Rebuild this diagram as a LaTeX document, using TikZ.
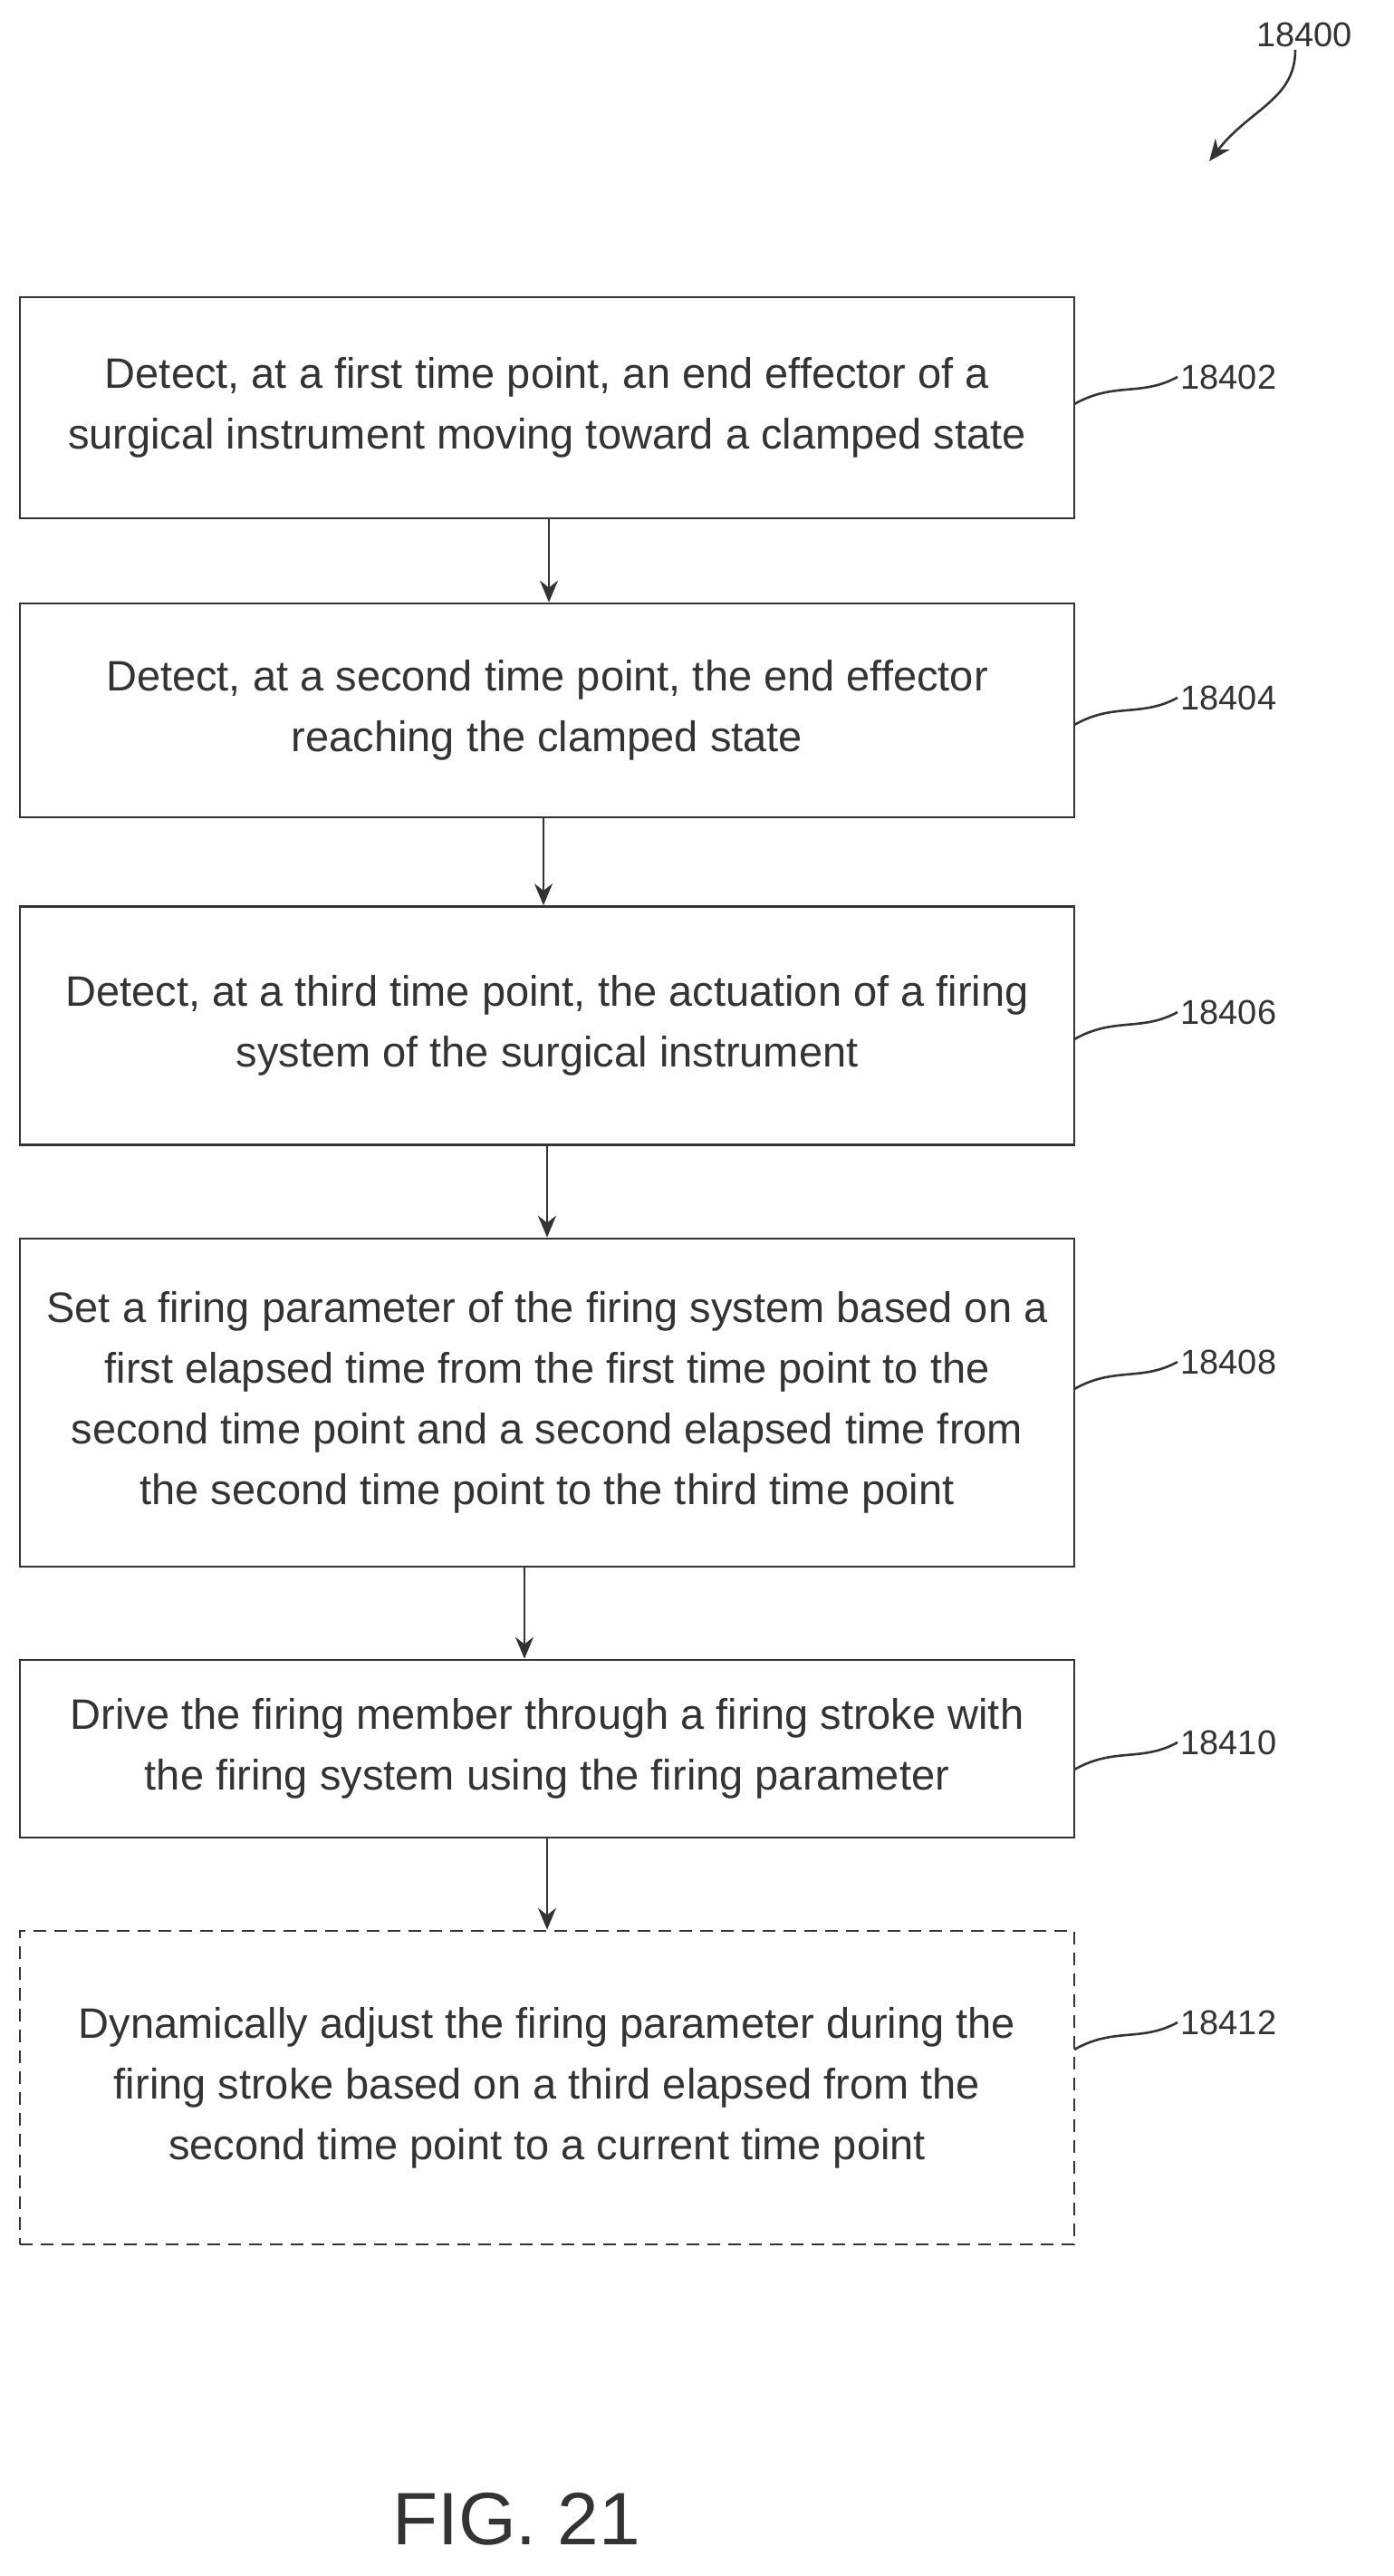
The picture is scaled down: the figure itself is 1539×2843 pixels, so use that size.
\documentclass[tikz,border=0pt]{standalone}
\usepackage{fontspec}
\setmainfont{Liberation Sans}
\usetikzlibrary{arrows.meta}
\begin{document}
\begin{tikzpicture}[x=1pt,y=-1pt,
  box/.style={draw=black!80,line width=2.6pt,align=center,text=black!80,font=\fontsize{47}{67}\selectfont},
  lbl/.style={text=black!80,font=\fontsize{38}{40}\selectfont,anchor=west},
  arr/.style={draw=black!80,line width=2.6pt,-{Stealth[length=24pt,width=20pt]}},
  lead/.style={draw=black!80,line width=2.6pt}]
\useasboundingbox (0,0) rectangle (1539,2843);
\node[box,minimum width=1164pt,minimum height=244pt] (b1) at (604,450) {Detect, at a first time point, an end effector of a\\surgical instrument moving toward a clamped state};
\node[box,minimum width=1164pt,minimum height=236pt] (b2) at (604,784) {Detect, at a second time point, the end effector\\reaching the clamped state};
\node[box,minimum width=1164pt,minimum height=263pt] (b3) at (604,1132) {Detect, at a third time point, the actuation of a firing\\system of the surgical instrument};
\node[box,minimum width=1164pt,minimum height=362pt] (b4) at (604,1548) {Set a firing parameter of the firing system based on a\\first elapsed time from the first time point to the\\second time point and a second elapsed time from\\the second time point to the third time point};
\node[box,minimum width=1164pt,minimum height=196pt] (b5) at (604,1930) {Drive the firing member through a firing stroke with\\the firing system using the firing parameter};
\node[box,dashed,dash pattern=on 14pt off 9pt,minimum width=1164pt,minimum height=346pt] (b6) at (604,2304) {Dynamically adjust the firing parameter during the\\firing stroke based on a third elapsed from the\\second time point to a current time point};
\draw[arr] ([xshift=2pt]b1.south) -- ([xshift=2pt]b2.north);
\draw[arr] ([xshift=-4pt]b2.south) -- ([xshift=-4pt]b3.north);
\draw[arr] (b3.south) -- (b4.north);
\draw[arr] ([xshift=-25pt]b4.south) -- ([xshift=-25pt]b5.north);
\draw[arr] (b5.south) -- (b6.north);
\foreach \b/\t/\y in {b1/18402/416,b2/18404/770,b3/18406/1117,b4/18408/1503,b5/18410/1923,b6/18412/2232}{
  \node[lbl] (l\t) at (1300,\y) {\t};
  \coordinate (s\t) at (1186,\y+30);
  \draw[lead] (s\t) .. controls (1230,\y+5) and (1260,\y+22) .. (l\t.west);
}
\node[lbl,anchor=center] (top) at (1440,38) {18400};
\coordinate (tip) at (1335,178);
\draw[arr] ([xshift=-10pt]top.south) .. controls (1430,110) and (1380,120) .. (tip);
\node[text=black!80,font=\fontsize{82}{90}\selectfont] (fig) at (570,2780) {FIG. 21};
\end{tikzpicture}
\end{document}
